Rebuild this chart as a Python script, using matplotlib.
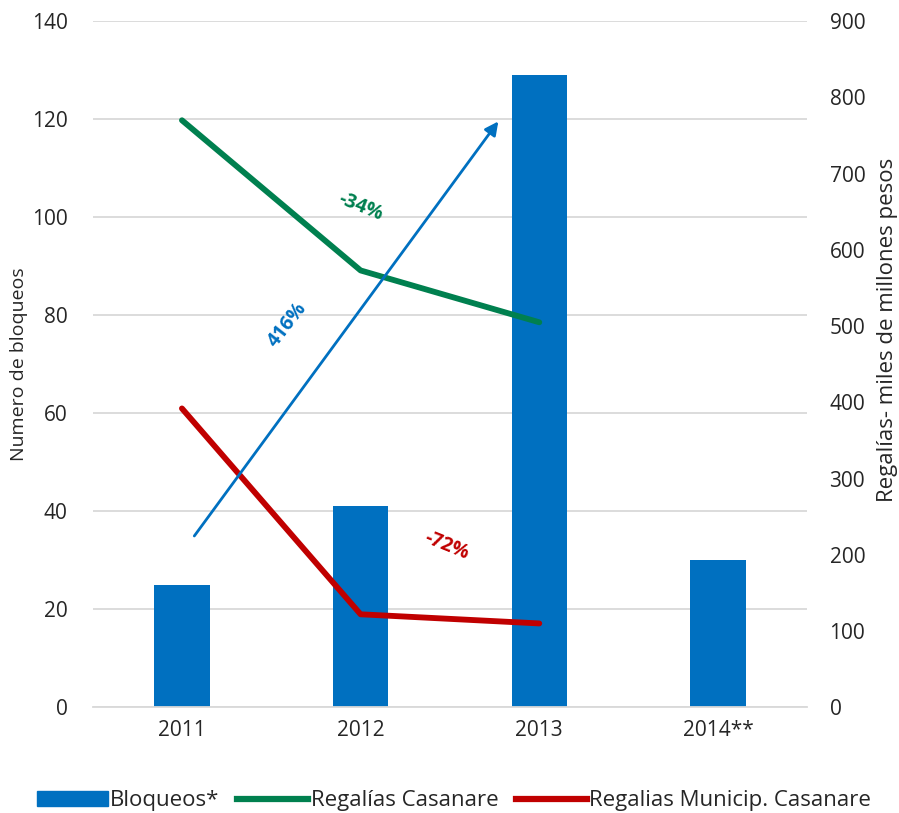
import matplotlib
matplotlib.use("Agg")
import matplotlib.pyplot as plt
from matplotlib.lines import Line2D
from matplotlib.patches import Patch

# ===== datos =====
anios = ["2011", "2012", "2013", "2014**"]
bloqueos = [25, 41, 129, 30]
regalias_casanare = [770, 573, 505]          # miles de millones de pesos
regalias_municip = [392, 122, 110]
flecha_ini = (0.06, 34.5)                    # (x categoria, bloqueos)
flecha_fin = (1.78, 120)
etiquetas = [("-34%", 1.0, 102, -22, "#00804F"),
             ("416%", 0.59, 78, 52, "#0070C0"),
             ("-72%", 1.48, 33, -22, "#C00000")]

AZUL, VERDE, ROJO = "#0070C0", "#00804F", "#C00000"
GRIS_TXT = "#262626"
plt.rcParams["font.family"] = ["Open Sans", "DejaVu Sans"]

fig = plt.figure(figsize=(8.99, 8.13), dpi=100)
ax = fig.add_axes([0.103, 0.130, 0.795, 0.844])
ax2 = ax.twinx()

x = list(range(len(anios)))
ax.bar(x, bloqueos, width=0.31, color=AZUL, zorder=2)
ax.set_xlim(-0.5, 3.5)
ax.set_ylim(0, 140)
ax.set_yticks(range(0, 141, 20))
ax.set_xticks(x)
ax.set_xticklabels(anios)
ax.grid(axis="y", color="#D9D9D9", lw=1.3, zorder=0)
ax.set_axisbelow(True)

ax2.plot(x[:3], regalias_casanare, color=VERDE, lw=4.2, solid_capstyle="round", zorder=3)
ax2.plot(x[:3], regalias_municip, color=ROJO, lw=4.2, solid_capstyle="round", zorder=3)
ax2.set_ylim(0, 900)
ax2.set_yticks(range(0, 901, 100))

for a in (ax, ax2):
    for s in a.spines.values():
        s.set_visible(False)
    a.tick_params(length=0, labelsize=15, colors=GRIS_TXT)
ax.spines["bottom"].set_visible(True)
ax.spines["bottom"].set_color("#D9D9D9")
ax.spines["bottom"].set_linewidth(1.3)
ax.tick_params(axis="x", labelsize=15, pad=9)
ax.tick_params(axis="y", pad=18)
ax2.tick_params(axis="y", pad=16)

ax.set_ylabel("Numero de bloqueos", fontsize=14, color=GRIS_TXT, labelpad=3)
ax2.set_ylabel("Regalías- miles de millones pesos", fontsize=16, color=GRIS_TXT)
ax2.yaxis.set_label_coords(1.098, 0.55)

# flecha de crecimiento de bloqueos
ax2.annotate("", xy=ax2.transData.inverted().transform(ax.transData.transform(flecha_fin)),
             xytext=ax2.transData.inverted().transform(ax.transData.transform(flecha_ini)),
             arrowprops=dict(arrowstyle="-|>", color=AZUL, lw=2, mutation_scale=20),
             zorder=4)

for txt, xx, yy, rot, col in etiquetas:
    ax.text(xx, yy, txt, color=col, fontsize=14, fontweight="bold", rotation=rot,
            ha="center", va="center", zorder=5)

handles = [Patch(color=AZUL),
           Line2D([0], [0], color=VERDE, lw=4.5),
           Line2D([0], [0], color=ROJO, lw=4.5)]
fig.legend(handles, ["Bloqueos*", "Regalías Casanare", "Regalias Municip. Casanare"],
           loc="center", bbox_to_anchor=(0.505, 0.015), ncol=3, frameon=False,
           fontsize=16, handlelength=3.2, handletextpad=0.1, columnspacing=0.8,
           labelcolor=GRIS_TXT)

fig.savefig("out.png", dpi=100)
